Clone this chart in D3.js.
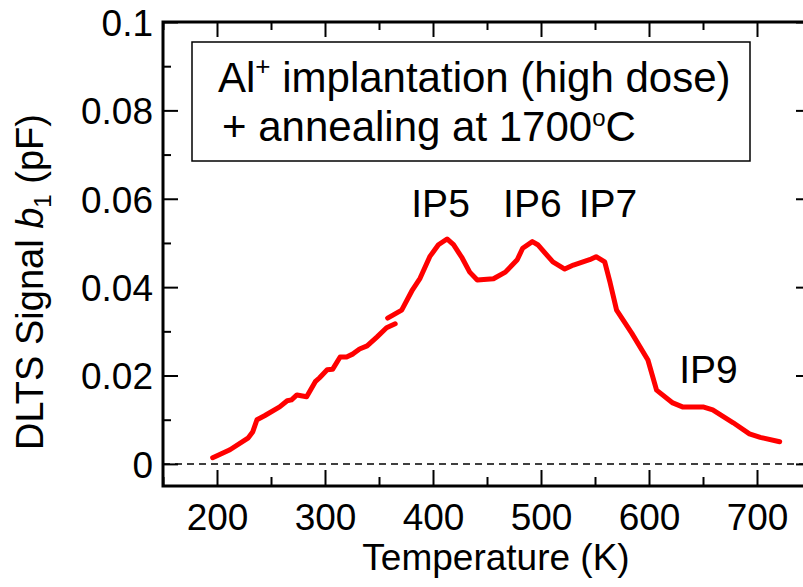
<!DOCTYPE html>
<html><head><meta charset="utf-8">
<script src="https://cdn.jsdelivr.net/npm/d3@7"></script>
<style>body{margin:0;background:#fff}svg{display:block}text{font-family:"Liberation Sans",Arial,sans-serif;fill:#000}</style>
</head><body>
<svg id="chart" width="803" height="587"></svg>
<script>
// Data
const segmentLow = [[196,0.0014],[212,0.0032],[229,0.0059],[233,0.0072],[237,0.0100],[244,0.0109],[258,0.0129],[265,0.0143],[269,0.0145],[274,0.0156],[283,0.0152],[291,0.0186],[295,0.0195],[302,0.0213],[307,0.0214],[314,0.0242],[320,0.0242],[326,0.0249],[332,0.0260],[339,0.0267],[348,0.0287],[357,0.0308],[365,0.0317]];
const segmentHigh = [[358,0.0330],[371,0.0348],[381,0.0394],[388,0.0420],[397,0.0469],[405,0.0496],[413,0.0509],[419,0.0496],[427,0.0466],[434,0.0434],[441,0.0416],[456,0.0419],[467,0.0434],[478,0.0462],[483,0.0488],[492,0.0503],[497,0.0496],[511,0.0457],[522,0.0441],[530,0.0450],[545,0.0462],[551,0.0469],[559,0.0457],[564,0.0410],[570,0.0348],[584,0.0296],[599,0.0235],[607,0.0167],[622,0.0138],[631,0.0129],[650,0.0129],[659,0.0122],[678,0.0093],[693,0.0068],[703,0.0060],[721,0.0050]];
const xTickValues = [200,300,400,500,600,700];
const xMinorTicks = [150,250,350,450,550,650,750];
const yTickValues = [0,0.02,0.04,0.06,0.08,0.1];
const yMinorTicks = [0.01,0.03,0.05,0.07,0.09];
const peakLabels = [{t:"IP5",x:407,y:0.0559},{t:"IP6",x:492,y:0.0559},{t:"IP7",x:562,y:0.0559},{t:"IP9",x:655,y:0.0183}];

const svg = d3.select("#chart");
const L=163, R=811, T=22, B=486;
const x = d3.scaleLinear().domain([150,750]).range([L,R]);
const y = d3.scaleLinear().domain([-0.005,0.1]).range([B,T]);

// zero dashed line
svg.append("line").attr("x1",L).attr("x2",R).attr("y1",y(0)).attr("y2",y(0))
  .attr("stroke","#000").attr("stroke-width",1.5).attr("stroke-dasharray","7,5");

// data lines
const line = d3.line().x(d=>x(d[0])).y(d=>y(d[1]));
[segmentLow, segmentHigh].forEach(s=>{
  svg.append("path").datum(s).attr("d",line).attr("fill","none")
    .attr("stroke","#ff0000").attr("stroke-width",5).attr("stroke-linejoin","round").attr("stroke-linecap","round");
});

// axes: ticks inward
function axisG(axis, tx, ty){ const g=svg.append("g").attr("transform",`translate(${tx},${ty})`).call(axis); g.select(".domain").remove(); g.selectAll("line").attr("stroke","#000").attr("stroke-width",2); return g; }
const gb = axisG(d3.axisBottom(x).tickValues(xTickValues).tickSize(-16).tickPadding(28).tickFormat(d3.format("d")), 0, B);
gb.selectAll("text").attr("font-size",37).attr("font-family","Liberation Sans, Arial, sans-serif").attr("dy","0").attr("y",44);
axisG(d3.axisBottom(x).tickValues(xMinorTicks).tickSize(-9).tickFormat(""), 0, B);
axisG(d3.axisTop(x).tickValues(xTickValues).tickSize(-15).tickFormat(""), 0, T);
axisG(d3.axisTop(x).tickValues(xMinorTicks).tickSize(-8).tickFormat(""), 0, T);
const gl = axisG(d3.axisLeft(y).tickValues(yTickValues).tickSize(-15).tickPadding(24).tickFormat(d=>d===0?"0":d3.format("")(+d.toFixed(2))), L, 0);
gl.selectAll("text").attr("font-size",37).attr("font-family","Liberation Sans, Arial, sans-serif").attr("dy","0.36em").attr("x",-10);
axisG(d3.axisLeft(y).tickValues(yMinorTicks).tickSize(-8).tickFormat(""), L, 0);
axisG(d3.axisRight(y).tickValues(yTickValues).tickSize(-15).tickFormat(""), R, 0);
axisG(d3.axisRight(y).tickValues(yMinorTicks).tickSize(-8).tickFormat(""), R, 0);

// frame
svg.append("rect").attr("x",L).attr("y",T).attr("width",R-L).attr("height",B-T)
  .attr("fill","none").attr("stroke","#000").attr("stroke-width",3);

// axis titles
svg.append("text").attr("x",496).attr("y",570).attr("text-anchor","middle").attr("font-size",37).text("Temperature (K)");
const yl = svg.append("text").attr("transform","translate(43,282) rotate(-90)").attr("text-anchor","middle").attr("font-size",38);
yl.append("tspan").text("DLTS Signal ");
yl.append("tspan").attr("font-style","italic").text("b");
yl.append("tspan").attr("font-size",24).attr("dy",8).text("1");
yl.append("tspan").attr("dy",-8).text(" (pF)");

// annotation box
svg.append("rect").attr("x",192).attr("y",42).attr("width",558).attr("height",119)
  .attr("fill","#fff").attr("stroke","#000").attr("stroke-width",1.5);
const t1 = svg.append("text").attr("x",218).attr("y",92).attr("font-size",42);
t1.append("tspan").text("Al");
t1.append("tspan").attr("font-size",26).attr("dy",-17).text("+");
t1.append("tspan").attr("dy",17).text(" implantation (high dose)");
const t2 = svg.append("text").attr("x",222).attr("y",141).attr("font-size",42);
t2.append("tspan").text("+ annealing at 1700");
t2.append("tspan").attr("font-size",24).attr("dy",-15).text("o");
t2.append("tspan").attr("dy",15).text("C");

// peak labels
svg.selectAll(".pk").data(peakLabels).enter().append("text").attr("class","pk")
  .attr("x",d=>x(d.x)).attr("y",d=>y(d.y)).attr("text-anchor","middle").attr("font-size",39).text(d=>d.t);
</script>
</body></html>
